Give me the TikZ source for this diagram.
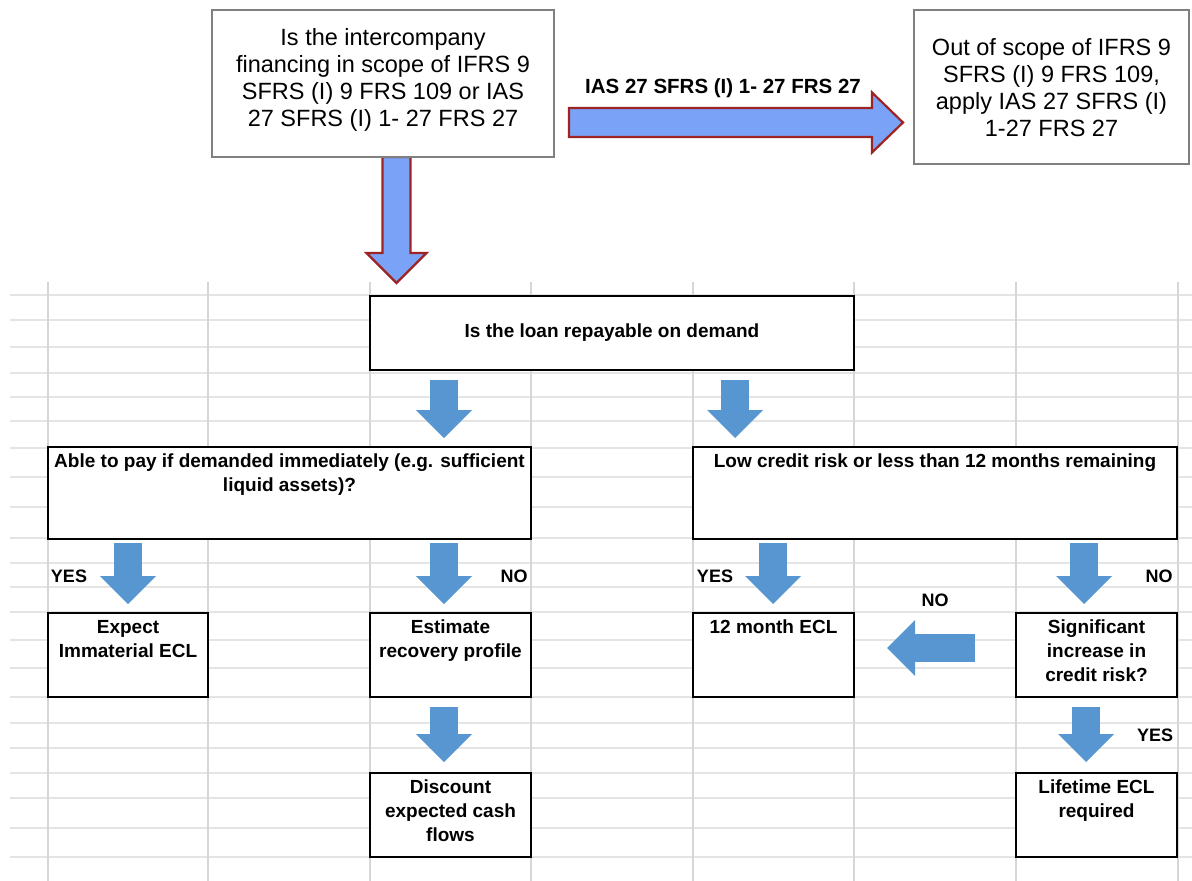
\documentclass[tikz,border=0pt]{standalone}
\usepackage{fontspec}
\setmainfont{Liberation Sans}
\usetikzlibrary{arrows.meta,calc,backgrounds}

\definecolor{gridh}{RGB}{228,228,228}
\definecolor{gridv}{RGB}{214,214,214}
\definecolor{scopefill}{RGB}{122,163,247}
\definecolor{scopeedge}{RGB}{158,36,36}
\definecolor{flowblue}{RGB}{88,150,210}
\definecolor{boxgray}{RGB}{128,128,128}

% top-aligned, centred text inside a cell of fixed size
\newcommand{\celltext}[4]{\parbox[c][#2][t]{#1}{\centering\vspace*{#3}#4\par}}

\begin{document}
\begin{tikzpicture}[x=1pt,y=-1pt,
  scopebox/.style={draw=boxgray, line width=2.4pt, fill=white, inner sep=0pt, outer sep=0pt,
    font=\fontsize{23.5}{27.3}\selectfont},
  sheetbox/.style={draw=black, line width=2.6pt, fill=white, inner sep=0pt, outer sep=0pt,
    font=\fontsize{19}{24}\selectfont\bfseries},
  scopearrow/.style={draw=scopeedge, fill=scopefill, line width=2.2pt, line join=miter},
  flowarrow/.style={draw=flowblue, line width=28pt,
    -{Triangle[width=56pt,length=28pt,line width=0pt]}},
  yesno/.style={inner sep=0pt, font=\fontsize{18}{20}\selectfont\bfseries},
  arrowlabel/.style={inner sep=0pt, font=\fontsize{20.5}{23}\selectfont\bfseries}
]

% ---- question boxes at the top ----
\node[scopebox, minimum width=342pt, minimum height=147pt] (q1) at (383,83.5)
  {\celltext{342pt}{147pt}{18pt}{Is the intercompany\\financing in scope of IFRS 9\\SFRS (I) 9 FRS 109 or IAS\\27 SFRS (I) 1- 27 FRS 27}};
\node[scopebox, minimum width=275pt, minimum height=154pt] (q2) at (1051.5,87)
  {\celltext{275pt}{154pt}{28pt}{Out of scope of IFRS 9\\SFRS (I) 9 FRS 109,\\apply IAS 27 SFRS (I)\\1-27 FRS 27}};
\node[arrowlabel] (lbl) at (723,88) {IAS 27 SFRS (I) 1- 27 FRS 27};

% ---- worksheet flow ----
\node[sheetbox, minimum width=484pt, minimum height=74pt] (loan) at (612,333)
  {Is the loan repayable on demand};
\node[sheetbox, minimum width=483pt, minimum height=92pt] (able) at (289.5,493)
  {\celltext{483pt}{92pt}{7pt}{Able to pay if demanded immediately (e.g. sufficient\\liquid assets)?}};
\node[sheetbox, minimum width=484pt, minimum height=92pt] (low) at (935,493)
  {\celltext{484pt}{92pt}{7pt}{Low credit risk or less than 12 months remaining}};
\node[sheetbox, minimum width=160pt, minimum height=84pt] (expect) at (128,655)
  {\celltext{160pt}{84pt}{7pt}{Expect\\Immaterial ECL}};
\node[sheetbox, minimum width=161pt, minimum height=84pt] (estimate) at (450.5,655)
  {\celltext{161pt}{84pt}{7pt}{Estimate\\recovery profile}};
\node[sheetbox, minimum width=161pt, minimum height=84pt] (twelve) at (773.5,655)
  {\celltext{161pt}{84pt}{7pt}{12 month ECL}};
\node[sheetbox, minimum width=161pt, minimum height=84pt] (signif) at (1096.5,655)
  {\celltext{161pt}{84pt}{7pt}{Significant\\increase in\\credit risk?}};
\node[sheetbox, minimum width=161pt, minimum height=84pt] (discount) at (450.5,815)
  {\celltext{161pt}{84pt}{7pt}{Discount\\expected cash\\flows}};
\node[sheetbox, minimum width=161pt, minimum height=84pt] (lifetime) at (1096.5,815)
  {\celltext{161pt}{84pt}{7pt}{Lifetime ECL\\required}};

\node[yesno] (y1) at (69,576) {YES};
\node[yesno] (n1) at (514,576) {NO};
\node[yesno] (y2) at (715,576) {YES};
\node[yesno] (n2) at (1159,576) {NO};
\node[yesno] (n3) at (935,600) {NO};
\node[yesno] (y3) at (1155,735) {YES};

% arrow columns
\coordinate (cA) at (444,0);
\coordinate (cB) at (735,0);
\coordinate (cC) at (128,0);
\coordinate (cD) at (773,0);
\coordinate (cE) at (1084,0);
\coordinate (cF) at (1086,0);

\begin{scope}[on background layer]
  \path[use as bounding box, fill=white] (0,0) rectangle (1192,881);

  % worksheet grid
  \foreach \y in {295,320,347,373,397,421,448,477,507,538,563,587,612,640,668,697,723,748,773,798,828,857}
    \draw[gridh, line width=2.8pt] (10,\y) -- (1192,\y);
  \foreach \x in {48,208,370,531,693,854,1016,1178}
    \draw[gridv, line width=1.2pt] (\x,282) -- (\x,881);

  % block arrows leaving the first question
  \coordinate (hs) at ($(q1.east)+(15,39)$);
  \coordinate (he) at ($(q2.west)+(-11,35.5)$);
  \draw[scopearrow] let \p1=(hs), \p2=(he) in
    (\x1,\y1+14.5pt) -- (\x2-31pt,\y1+14.5pt) -- (\x2-31pt,\y1+30pt) -- (\x2,\y1)
    -- (\x2-31pt,\y1-30pt) -- (\x2-31pt,\y1-14.5pt) -- (\x1,\y1-14.5pt) -- cycle;
  \coordinate (vs) at ($(q1.south)+(13.5,0)$);
  \coordinate (ve) at ($(q1.south)+(13.5,126)$);
  \draw[scopearrow] let \p1=(vs), \p2=(ve) in
    (\x1-14pt,\y1) -- (\x1-14pt,\y2+30pt) -- (\x1-30pt,\y2+30pt) -- (\x1,\y2)
    -- (\x1+30pt,\y2+30pt) -- (\x1+14pt,\y2+30pt) -- (\x1+14pt,\y1) -- cycle;

  % worksheet arrows
  \draw[flowarrow, shorten <=10pt, shorten >=9pt] (loan.south -| cA) -- (able.north -| cA);
  \draw[flowarrow, shorten <=10pt, shorten >=9pt] (loan.south -| cB) -- (low.north -| cB);
  \draw[flowarrow, shorten <=4pt, shorten >=9pt] (able.south -| cC) -- (expect.north -| cC);
  \draw[flowarrow, shorten <=4pt, shorten >=9pt] (able.south -| cA) -- (estimate.north -| cA);
  \draw[flowarrow, shorten <=4pt, shorten >=9pt] (low.south -| cD) -- (twelve.north -| cD);
  \draw[flowarrow, shorten <=4pt, shorten >=9pt] (low.south -| cE) -- (signif.north -| cE);
  \draw[flowarrow, shorten <=10pt, shorten >=11pt] (estimate.south -| cA) -- (discount.north -| cA);
  \draw[flowarrow, shorten <=10pt, shorten >=11pt] (signif.south -| cF) -- (lifetime.north -| cF);
  \draw[flowarrow, shorten <=41pt, shorten >=33pt] ([yshift=7pt]signif.west) -- ([yshift=7pt]twelve.east);
\end{scope}
\end{tikzpicture}
\end{document}
